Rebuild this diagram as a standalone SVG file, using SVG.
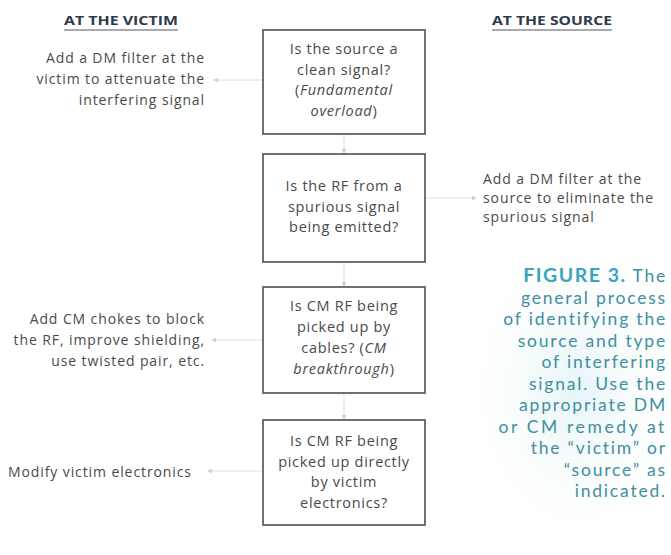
<svg xmlns="http://www.w3.org/2000/svg" width="671" height="555" viewBox="0 0 671 555">
<defs>
<style>
.hdr{font-family:"Open Sans","Liberation Sans",sans-serif;font-weight:bold;font-size:12.5px;fill:#2e3a48;text-anchor:middle}
.side{font-family:"Open Sans","Liberation Sans",sans-serif;font-size:14px;letter-spacing:0.9px;fill:#4a4a4a}
.bt{font-family:"Open Sans","Liberation Sans",sans-serif;font-size:14.5px;letter-spacing:0.7px;fill:#4a4a4a;text-anchor:middle}
.box{fill:#ffffff;stroke:#5d636a;stroke-width:1.8}
.cap{font-family:Lato,"Liberation Sans",sans-serif;font-size:17.5px;letter-spacing:1.8px;fill:#3f8f9f;text-anchor:end}
.wide{letter-spacing:2.6px}
.fig{font-weight:bold;font-size:19.5px;letter-spacing:1.5px;fill:#3aa3bd}
.conn{stroke:#e0e0e0;stroke-width:1;fill:none}
</style>
<marker id="ah" viewBox="0 0 6 6" refX="5" refY="3" markerWidth="5" markerHeight="5" orient="auto">
<path d="M0,0 L6,3 L0,6 z" fill="#cfcfcf"/>
</marker>
<radialGradient id="glow" cx="0.5" cy="0.5" r="0.5">
<stop offset="0" stop-color="#e6f4f6"/>
<stop offset="1" stop-color="#ffffff" stop-opacity="0"/>
</radialGradient>
</defs>
<rect width="671" height="555" fill="#ffffff"/>
<ellipse cx="575" cy="390" rx="120" ry="170" fill="url(#glow)"/>

<g id="headers">
<text class="hdr" x="121" y="25" textLength="114" lengthAdjust="spacingAndGlyphs">AT THE VICTIM</text>
<line x1="64" y1="30" x2="178" y2="30" stroke="#4a5868" stroke-width="1.2"/>
<text class="hdr" x="552" y="25" textLength="120" lengthAdjust="spacingAndGlyphs">AT THE SOURCE</text>
<line x1="492" y1="30" x2="612" y2="30" stroke="#4a5868" stroke-width="1.2"/>
</g>

<g id="connectors">
<line class="conn" x1="344" y1="134" x2="344" y2="153" marker-end="url(#ah)"/>
<line class="conn" x1="344" y1="262" x2="344" y2="286" marker-end="url(#ah)"/>
<line class="conn" x1="344" y1="393" x2="344" y2="419" marker-end="url(#ah)"/>
<line class="conn" x1="262" y1="80" x2="214" y2="80" marker-end="url(#ah)"/>
<line class="conn" x1="426" y1="198" x2="476" y2="198" marker-end="url(#ah)"/>
<line class="conn" x1="262" y1="340" x2="212" y2="340" marker-end="url(#ah)"/>
<line class="conn" x1="262" y1="471" x2="208" y2="471" marker-end="url(#ah)"/>
</g>

<g id="victim-dm">
<text class="side" text-anchor="end" x="205" y="63">Add a DM filter at the</text>
<text class="side" text-anchor="end" x="205" y="84">victim to attenuate the</text>
<text class="side" text-anchor="end" x="205" y="105">interfering signal</text>
</g>

<g id="box1">
<rect class="box" x="263" y="30" width="162" height="104"/>
<text class="bt" x="344" y="54">Is the source a</text>
<text class="bt" x="344" y="74.5">clean signal?</text>
<text class="bt" x="344" y="95">(<tspan font-style="italic">Fundamental</tspan></text>
<text class="bt" x="344" y="115.5"><tspan font-style="italic">overload</tspan>)</text>
</g>

<g id="box2">
<rect class="box" x="263" y="154" width="162" height="108"/>
<text class="bt" x="344" y="191">Is the RF from a</text>
<text class="bt" x="344" y="211.5">spurious signal</text>
<text class="bt" x="344" y="232">being emitted?</text>
</g>

<g id="source-dm">
<text class="side" x="483" y="184">Add a DM filter at the</text>
<text class="side" x="483" y="203">source to eliminate the</text>
<text class="side" x="483" y="222">spurious signal</text>
</g>

<g id="box3">
<rect class="box" x="263" y="287" width="162" height="106"/>
<text class="bt" x="344" y="311">Is CM RF being</text>
<text class="bt" x="344" y="332">picked up by</text>
<text class="bt" x="344" y="353">cables? (<tspan font-style="italic">CM</tspan></text>
<text class="bt" x="344" y="374"><tspan font-style="italic">breakthrough</tspan>)</text>
</g>

<g id="victim-cm">
<text class="side" text-anchor="end" x="205" y="324">Add CM chokes to block</text>
<text class="side" text-anchor="end" x="205" y="345">the RF, improve shielding,</text>
<text class="side" text-anchor="end" x="205" y="366">use twisted pair, etc.</text>
</g>

<g id="box4">
<rect class="box" x="263" y="420" width="162" height="105"/>
<text class="bt" x="344" y="446">Is CM RF being</text>
<text class="bt" x="344" y="466.5">picked up directly</text>
<text class="bt" x="344" y="487">by victim</text>
<text class="bt" x="344" y="507.5">electronics?</text>
</g>

<g id="victim-electronics">
<text class="side" x="8" y="477">Modify victim electronics</text>
</g>

<g id="caption">
<text class="cap" x="667" y="282"><tspan class="fig">FIGURE 3.</tspan> The</text>
<text class="cap" x="667" y="303.5">general process</text>
<text class="cap" x="667" y="325">of identifying the</text>
<text class="cap" x="667" y="346.5">source and type</text>
<text class="cap" x="667" y="368">of interfering</text>
<text class="cap" x="667" y="389.5">signal. Use the</text>
<text class="cap" x="667" y="411">appropriate DM</text>
<text class="cap wide" x="667" y="432.5">or CM remedy at</text>
<text class="cap" x="667" y="454">the “victim” or</text>
<text class="cap" x="667" y="475.5">“source” as</text>
<text class="cap" x="667" y="497">indicated.</text>
</g>
</svg>
